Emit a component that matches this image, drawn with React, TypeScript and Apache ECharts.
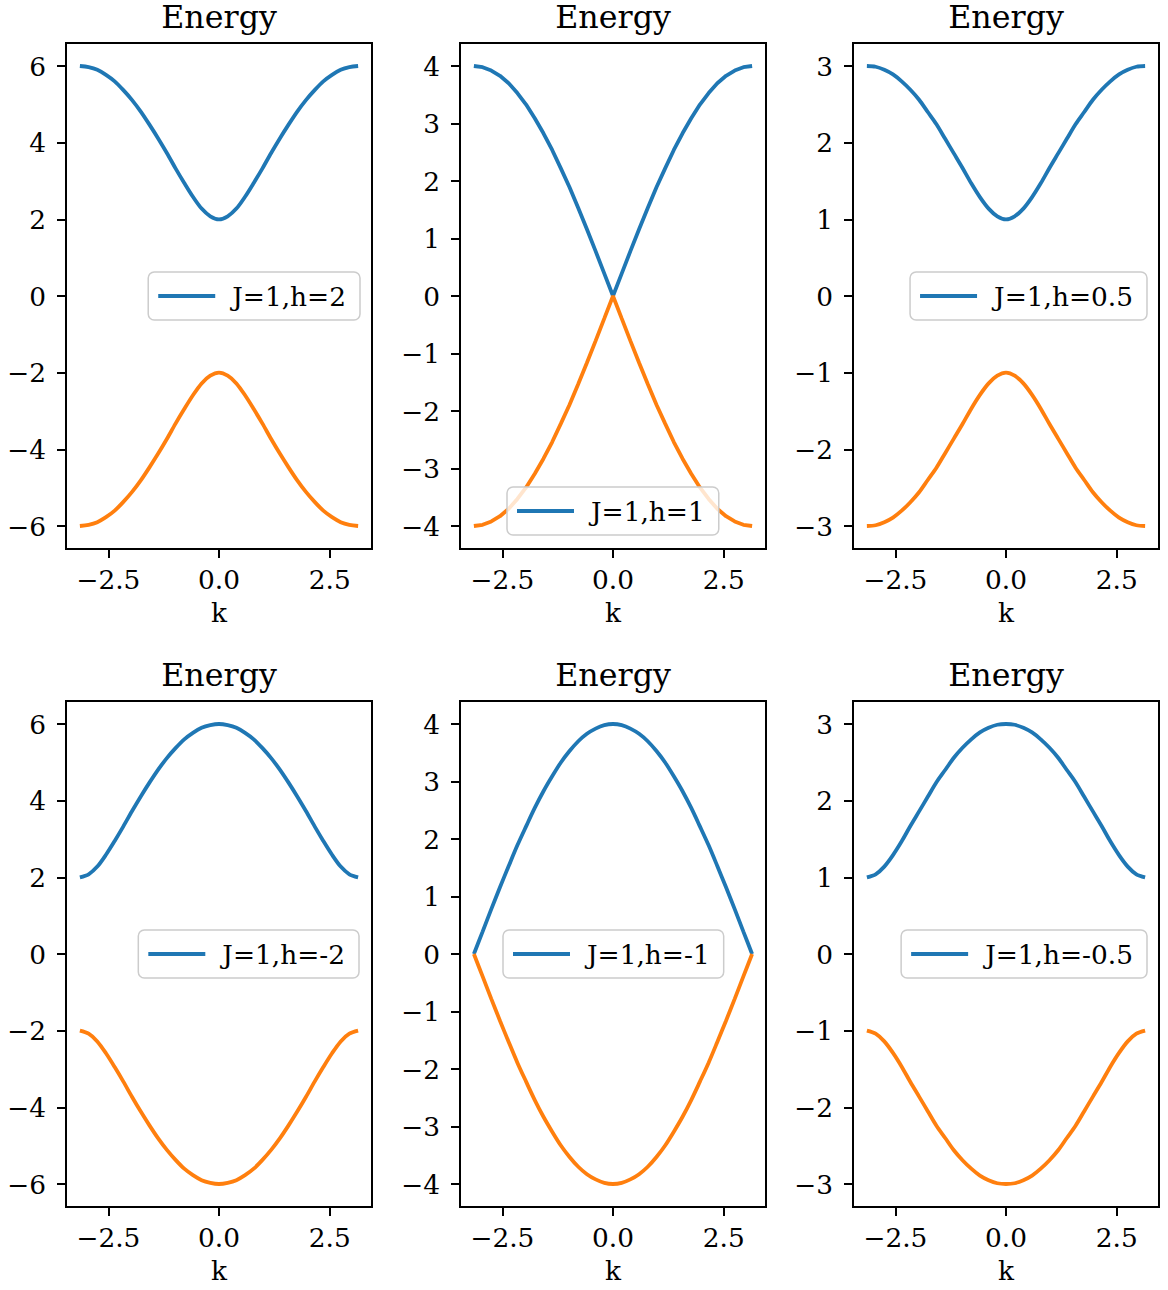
import React, { useEffect, useRef } from "react";
import * as echarts from "echarts";

// Wave number samples over [-π, π]
const K = [
  -3.142, -2.945, -2.749, -2.553, -2.356, -2.16, -1.963, -1.767, -1.571, -1.374, -1.178,
  -0.982, -0.785, -0.589, -0.393, -0.196, 0, 0.196, 0.393, 0.589, 0.785, 0.982, 1.178,
  1.374, 1.571, 1.767, 1.963, 2.16, 2.356, 2.553, 2.749, 2.945, 3.142,
];

// Upper and lower bands for each (J, h)
const upperH2 = [6.0, 5.97, 5.9, 5.77, 5.6, 5.37, 5.11, 4.81, 4.47, 4.11, 3.73, 3.33, 2.95, 2.59, 2.28, 2.08, 2.0, 2.08, 2.28, 2.59, 2.95, 3.33, 3.73, 4.11, 4.47, 4.81, 5.11, 5.37, 5.6, 5.77, 5.9, 5.97, 6.0];
const lowerH2 = [-6.0, -5.97, -5.9, -5.77, -5.6, -5.37, -5.11, -4.81, -4.47, -4.11, -3.73, -3.33, -2.95, -2.59, -2.28, -2.08, -2.0, -2.08, -2.28, -2.59, -2.95, -3.33, -3.73, -4.11, -4.47, -4.81, -5.11, -5.37, -5.6, -5.77, -5.9, -5.97, -6.0];

const upperH1 = [4.0, 3.98, 3.92, 3.83, 3.7, 3.53, 3.33, 3.09, 2.83, 2.54, 2.22, 1.89, 1.53, 1.16, 0.78, 0.39, 0.0, 0.39, 0.78, 1.16, 1.53, 1.89, 2.22, 2.54, 2.83, 3.09, 3.33, 3.53, 3.7, 3.83, 3.92, 3.98, 4.0];
const lowerH1 = [-4.0, -3.98, -3.92, -3.83, -3.7, -3.53, -3.33, -3.09, -2.83, -2.54, -2.22, -1.89, -1.53, -1.16, -0.78, -0.39, 0.0, -0.39, -0.78, -1.16, -1.53, -1.89, -2.22, -2.54, -2.83, -3.09, -3.33, -3.53, -3.7, -3.83, -3.92, -3.98, -4.0];

const upperH05 = [3.0, 2.99, 2.95, 2.89, 2.8, 2.69, 2.56, 2.4, 2.24, 2.05, 1.86, 1.67, 1.47, 1.29, 1.14, 1.04, 1.0, 1.04, 1.14, 1.29, 1.47, 1.67, 1.86, 2.05, 2.24, 2.4, 2.56, 2.69, 2.8, 2.89, 2.95, 2.99, 3.0];
const lowerH05 = [-3.0, -2.99, -2.95, -2.89, -2.8, -2.69, -2.56, -2.4, -2.24, -2.05, -1.86, -1.67, -1.47, -1.29, -1.14, -1.04, -1.0, -1.04, -1.14, -1.29, -1.47, -1.67, -1.86, -2.05, -2.24, -2.4, -2.56, -2.69, -2.8, -2.89, -2.95, -2.99, -3.0];

const upperHm2 = [2.0, 2.08, 2.28, 2.59, 2.95, 3.33, 3.73, 4.11, 4.47, 4.81, 5.11, 5.37, 5.6, 5.77, 5.9, 5.97, 6.0, 5.97, 5.9, 5.77, 5.6, 5.37, 5.11, 4.81, 4.47, 4.11, 3.73, 3.33, 2.95, 2.59, 2.28, 2.08, 2.0];
const lowerHm2 = [-2.0, -2.08, -2.28, -2.59, -2.95, -3.33, -3.73, -4.11, -4.47, -4.81, -5.11, -5.37, -5.6, -5.77, -5.9, -5.97, -6.0, -5.97, -5.9, -5.77, -5.6, -5.37, -5.11, -4.81, -4.47, -4.11, -3.73, -3.33, -2.95, -2.59, -2.28, -2.08, -2.0];

const upperHm1 = [0.0, 0.39, 0.78, 1.16, 1.53, 1.89, 2.22, 2.54, 2.83, 3.09, 3.33, 3.53, 3.7, 3.83, 3.92, 3.98, 4.0, 3.98, 3.92, 3.83, 3.7, 3.53, 3.33, 3.09, 2.83, 2.54, 2.22, 1.89, 1.53, 1.16, 0.78, 0.39, 0.0];
const lowerHm1 = [0.0, -0.39, -0.78, -1.16, -1.53, -1.89, -2.22, -2.54, -2.83, -3.09, -3.33, -3.53, -3.7, -3.83, -3.92, -3.98, -4.0, -3.98, -3.92, -3.83, -3.7, -3.53, -3.33, -3.09, -2.83, -2.54, -2.22, -1.89, -1.53, -1.16, -0.78, -0.39, 0.0];

const upperHm05 = [1.0, 1.04, 1.14, 1.29, 1.47, 1.67, 1.86, 2.05, 2.24, 2.4, 2.56, 2.69, 2.8, 2.89, 2.95, 2.99, 3.0, 2.99, 2.95, 2.89, 2.8, 2.69, 2.56, 2.4, 2.24, 2.05, 1.86, 1.67, 1.47, 1.29, 1.14, 1.04, 1.0];
const lowerHm05 = [-1.0, -1.04, -1.14, -1.29, -1.47, -1.67, -1.86, -2.05, -2.24, -2.4, -2.56, -2.69, -2.8, -2.89, -2.95, -2.99, -3.0, -2.99, -2.95, -2.89, -2.8, -2.69, -2.56, -2.4, -2.24, -2.05, -1.86, -1.67, -1.47, -1.29, -1.14, -1.04, -1.0];

const LABELS = ["J=1,h=2", "J=1,h=1", "J=1,h=0.5", "J=1,h=-2", "J=1,h=-1", "J=1,h=-0.5"];
const UPPER = [upperH2, upperH1, upperH05, upperHm2, upperHm1, upperHm05];
const LOWER = [lowerH2, lowerH1, lowerH05, lowerHm2, lowerHm1, lowerHm05];

// Axis ticks
const X_TICKS = [-2.5, 0, 2.5];
const Y_TICKS = [
  [-6, -4, -2, 0, 2, 4, 6],
  [-4, -3, -2, -1, 0, 1, 2, 3, 4],
  [-3, -2, -1, 0, 1, 2, 3],
  [-6, -4, -2, 0, 2, 4, 6],
  [-4, -3, -2, -1, 0, 1, 2, 3, 4],
  [-3, -2, -1, 0, 1, 2, 3],
];
const Y_LIMIT = [6.6, 4.4, 3.3, 6.6, 4.4, 3.3];
const X_LIMIT = 3.4558;

const FONT = "'DejaVu Serif', serif";
const BLUE = "#1f77b4";
const ORANGE = "#ff7f0e";
const TICK_FONT = 26.4;
const TITLE_FONT = 31.7;

// Panel geometry
const COL_LEFT = [66, 460, 853];
const ROW_TOP = [43, 701];
const PANEL_W = 306;
const PANEL_H = 506;

// The h=1 band has a cusp at k=0, so it is drawn without smoothing
const SMOOTH = [0.3, 0, 0.3, 0.3, 0.3, 0.3];

// Legend box placement per panel: left or right anchor, top
const LEGEND_POS: Array<Record<string, number>> = [
  { right: 808, top: 272 },
  { left: 507, top: 487 },
  { right: 21, top: 272 },
  { right: 809, top: 930 },
  { left: 503, top: 930 },
  { right: 21, top: 930 },
];

const fmt = (v: number, digits: number) =>
  (v < 0 ? "\u2212" : "") + Math.abs(v).toFixed(digits);

function buildOption() {
  const grid: any[] = [];
  const xAxis: any[] = [];
  const yAxis: any[] = [];
  const series: any[] = [];
  const title: any[] = [];
  const legend: any[] = [];

  for (let i = 0; i < 6; i++) {
    const col = i % 3;
    const row = Math.floor(i / 3);
    const left = COL_LEFT[col];
    const top = ROW_TOP[row];
    grid.push({
      left,
      top,
      width: PANEL_W,
      height: PANEL_H,
      show: true,
      borderColor: "#000",
      borderWidth: 2,
      backgroundColor: "transparent",
      containLabel: false,
    });
    xAxis.push({
      type: "value",
      gridIndex: i,
      position: "bottom",
      min: -X_LIMIT,
      max: X_LIMIT,
      splitLine: { show: false },
      axisLine: { show: false, onZero: false },
      axisTick: {
        show: true,
        inside: false,
        length: 9,
        customValues: X_TICKS,
        lineStyle: { color: "#000", width: 2 },
      },
      axisLabel: {
        show: true,
        customValues: X_TICKS,
        margin: 17,
        fontFamily: FONT,
        fontSize: TICK_FONT,
        color: "#000",
        formatter: (v: number) => fmt(v, 1),
      },
      name: "k",
      nameLocation: "middle",
      nameGap: 50,
      nameTextStyle: { fontFamily: FONT, fontSize: TICK_FONT, color: "#000" },
    });
    yAxis.push({
      type: "value",
      gridIndex: i,
      position: "left",
      min: -Y_LIMIT[i],
      max: Y_LIMIT[i],
      splitLine: { show: false },
      axisLine: { show: false, onZero: false },
      axisTick: {
        show: true,
        inside: false,
        length: 9,
        customValues: Y_TICKS[i],
        lineStyle: { color: "#000", width: 2 },
      },
      axisLabel: {
        show: true,
        customValues: Y_TICKS[i],
        margin: 20,
        fontFamily: FONT,
        fontSize: TICK_FONT,
        color: "#000",
        formatter: (v: number) => fmt(v, 0),
      },
    });
    series.push({
      type: "line",
      name: LABELS[i],
      xAxisIndex: i,
      yAxisIndex: i,
      data: K.map((k, j) => [k, UPPER[i][j]]),
      symbol: "none",
      showSymbol: false,
      smooth: SMOOTH[i],
      color: BLUE,
      lineStyle: { color: BLUE, width: 3.8 },
      z: 2,
    });
    series.push({
      type: "line",
      name: "lower " + LABELS[i],
      xAxisIndex: i,
      yAxisIndex: i,
      data: K.map((k, j) => [k, LOWER[i][j]]),
      symbol: "none",
      showSymbol: false,
      smooth: SMOOTH[i],
      color: ORANGE,
      lineStyle: { color: ORANGE, width: 3.8 },
      z: 2,
    });
    title.push({
      text: "Energy",
      left: left + PANEL_W / 2,
      top: top - 42,
      textAlign: "center",
      padding: 0,
      textStyle: { fontFamily: FONT, fontSize: TITLE_FONT, fontWeight: "normal", color: "#000" },
    });
    legend.push({
      ...LEGEND_POS[i],
      data: [LABELS[i]],
      selectedMode: false,
      orient: "horizontal",
      icon: "rect",
      itemWidth: 57,
      itemHeight: 3.8,
      padding: [11, 14, 11, 10],
      borderColor: "#cccccc",
      borderWidth: 1.5,
      borderRadius: 6,
      backgroundColor: "rgba(255,255,255,0.8)",
      textStyle: { fontFamily: FONT, fontSize: TICK_FONT, color: "#000", padding: [0, 0, 0, 12] },
    });
  }

  return {
    animation: false,
    backgroundColor: "#fff",
    grid,
    xAxis,
    yAxis,
    series,
    title,
    legend,
  };
}

export default function App() {
  const ref = useRef<HTMLDivElement>(null);
  useEffect(() => {
    if (!ref.current) return;
    const chart = echarts.init(ref.current, null, { renderer: "svg" });
    chart.setOption(buildOption() as any);
    return () => chart.dispose();
  }, []);
  return (
    <div
      ref={ref}
      style={{ position: "absolute", left: 0, top: 0, width: 1168, height: 1290 }}
    />
  );
}
